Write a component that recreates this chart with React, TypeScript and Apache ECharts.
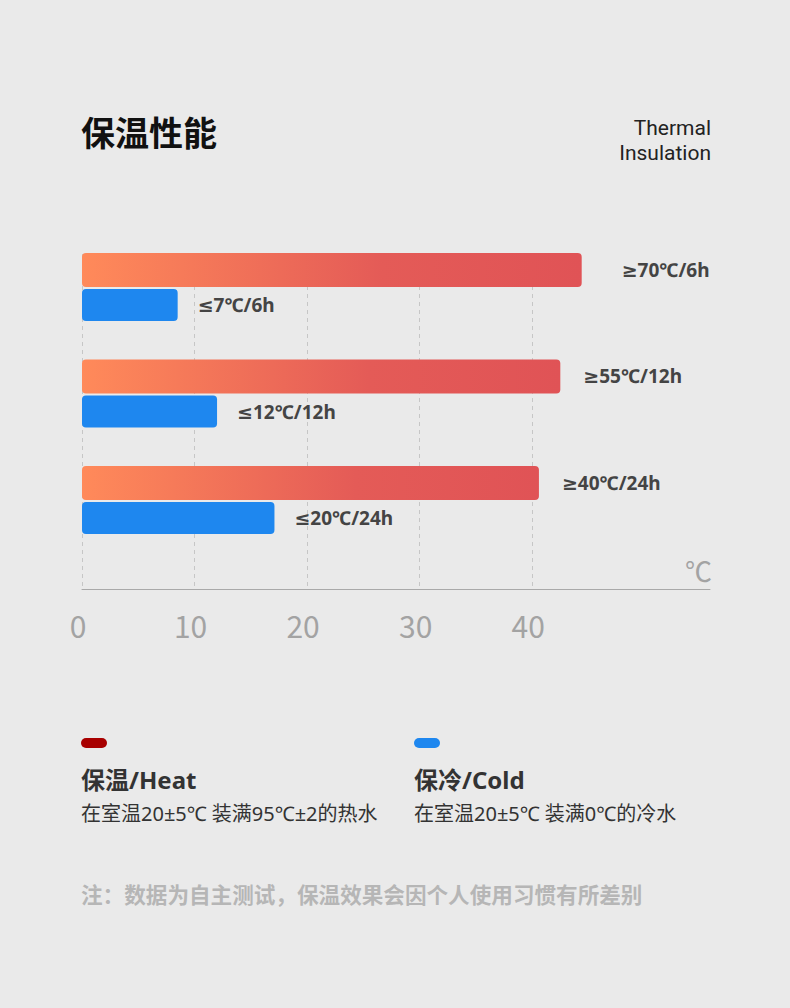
import React, { useEffect, useRef } from 'react';
import * as echarts from 'echarts';

// data
const periods = ['6h', '12h', '24h'];
const heatValues = [44.4, 42.5, 40.6];
const coldValues = [8.5, 12.0, 17.1];
const heatLabels = ['≥70℃/6h', '≥55℃/12h', '≥40℃/24h'];
const coldLabels = ['≤7℃/6h', '≤12℃/12h', '≤20℃/24h'];
const tickMin = 0;
const tickMax = 40;
const tickStep = 10;
const axisEnd = 55.8;

const CJK = '"Noto Sans CJK SC", "Noto Sans", sans-serif';
const LATIN = '"Noto Sans", "DejaVu Sans", "Noto Sans CJK SC", sans-serif';

const App: React.FC = () => {
  const chartRef = useRef<HTMLDivElement>(null);

  useEffect(() => {
    if (!chartRef.current) return;
    const chart = echarts.init(chartRef.current, undefined, { renderer: 'svg' });

    const heatGradient = new echarts.graphic.LinearGradient(0, 0, 1, 0, [
      { offset: 0, color: '#ff8a5a' },
      { offset: 0.6, color: '#e45b57' },
      { offset: 1, color: '#e05356' }
    ]);

    const barLabel = {
      show: true,
      position: 'right',
      fontSize: 19,
      fontWeight: 'bold',
      color: '#444',
      fontFamily: LATIN
    };

    const option = {
      animation: false,
      backgroundColor: '#eaeaea',
      textStyle: { fontFamily: CJK },
      grid: [
        { left: 82, right: 80, top: 233.75, height: 319.5 },
        { left: 82, width: 450.2, top: 254, height: 335 }
      ],
      xAxis: [
        {
          type: 'value',
          gridIndex: 0,
          min: 0,
          max: axisEnd,
          offset: 36,
          axisLine: { show: true, lineStyle: { color: '#a9a9a9', width: 1 } },
          axisTick: { show: false },
          axisLabel: { show: false },
          splitLine: { show: false }
        },
        {
          type: 'value',
          gridIndex: 1,
          min: tickMin,
          max: tickMax,
          interval: tickStep,
          axisLine: { show: false },
          axisTick: { show: false },
          splitLine: { show: true, lineStyle: { color: '#c6c6c6', type: [4, 4], width: 1 } },
          axisLabel: {
            fontSize: 30,
            color: '#a3a3a3',
            margin: 21,
            padding: [0, 8, 0, 0],
            fontFamily: CJK
          }
        }
      ],
      yAxis: [
        { type: 'category', gridIndex: 0, inverse: true, data: periods, show: false },
        { type: 'value', gridIndex: 1, min: 0, max: 1, show: false }
      ],
      series: [
        {
          name: '保温/Heat',
          type: 'bar',
          xAxisIndex: 0,
          yAxisIndex: 0,
          // first label sits flush with the right edge of the chart
          data: heatValues.map((v, i) => (i === 0 ? { value: v, label: { distance: 40 } } : v)),
          barWidth: 34,
          barGap: '6%',
          itemStyle: { color: heatGradient, borderRadius: 4 },
          label: {
            ...barLabel,
            distance: 23,
            formatter: (p: any) => heatLabels[p.dataIndex]
          }
        },
        {
          name: '保冷/Cold',
          type: 'bar',
          xAxisIndex: 0,
          yAxisIndex: 0,
          data: coldValues,
          barWidth: 32,
          itemStyle: { color: '#1e87ef', borderRadius: 4 },
          label: {
            ...barLabel,
            distance: 20,
            formatter: (p: any) => coldLabels[p.dataIndex]
          }
        }
      ],
      graphic: [
        {
          type: 'text',
          x: 81,
          y: 131,
          style: {
            text: '保温性能',
            fill: '#111',
            fontSize: 34,
            fontWeight: 'bold',
            fontFamily: CJK,
            verticalAlign: 'middle'
          }
        },
        {
          type: 'text',
          x: 711,
          y: 127.5,
          style: {
            text: 'Thermal',
            fill: '#222',
            fontSize: 21,
            fontFamily: 'Roboto, "Noto Sans", sans-serif',
            align: 'right',
            verticalAlign: 'middle'
          }
        },
        {
          type: 'text',
          x: 711,
          y: 153,
          style: {
            text: 'Insulation',
            fill: '#222',
            fontSize: 21,
            fontFamily: 'Roboto, "Noto Sans", sans-serif',
            align: 'right',
            verticalAlign: 'middle'
          }
        },
        {
          type: 'text',
          x: 712,
          y: 570,
          style: {
            text: '℃',
            fill: '#a3a3a3',
            fontSize: 27,
            fontFamily: CJK,
            align: 'right',
            verticalAlign: 'middle'
          }
        },
        {
          type: 'rect',
          shape: { x: 81, y: 738, width: 26, height: 10, r: 5 },
          style: { fill: '#a80000' }
        },
        {
          type: 'rect',
          shape: { x: 414, y: 738, width: 26, height: 10, r: 5 },
          style: { fill: '#1e87ef' }
        },
        {
          type: 'text',
          x: 81,
          y: 779,
          style: {
            text: '保温/Heat',
            fill: '#333',
            fontSize: 24,
            fontWeight: 'bold',
            fontFamily: LATIN,
            verticalAlign: 'middle'
          }
        },
        {
          type: 'text',
          x: 414,
          y: 779,
          style: {
            text: '保冷/Cold',
            fill: '#333',
            fontSize: 24,
            fontWeight: 'bold',
            fontFamily: LATIN,
            verticalAlign: 'middle'
          }
        },
        {
          type: 'text',
          x: 81,
          y: 813,
          style: {
            text: '在室温20±5℃ 装满95℃±2的热水',
            fill: '#333',
            fontSize: 20,
            fontFamily: LATIN,
            verticalAlign: 'middle'
          }
        },
        {
          type: 'text',
          x: 414,
          y: 813,
          style: {
            text: '在室温20±5℃ 装满0℃的冷水',
            fill: '#333',
            fontSize: 20,
            fontFamily: LATIN,
            verticalAlign: 'middle'
          }
        },
        {
          type: 'text',
          x: 81,
          y: 893,
          style: {
            text: '注：数据为自主测试，保温效果会因个人使用习惯有所差别',
            fill: '#b6b6b6',
            fontSize: 21.6,
            fontWeight: 'bold',
            fontFamily: CJK,
            verticalAlign: 'middle'
          }
        }
      ]
    };

    chart.setOption(option);

    return () => {
      chart.dispose();
    };
  }, []);

  return (
    <div
      ref={chartRef}
      style={{ position: 'fixed', left: 0, top: 0, width: '790px', height: '1008px' }}
    />
  );
};

export default App;
